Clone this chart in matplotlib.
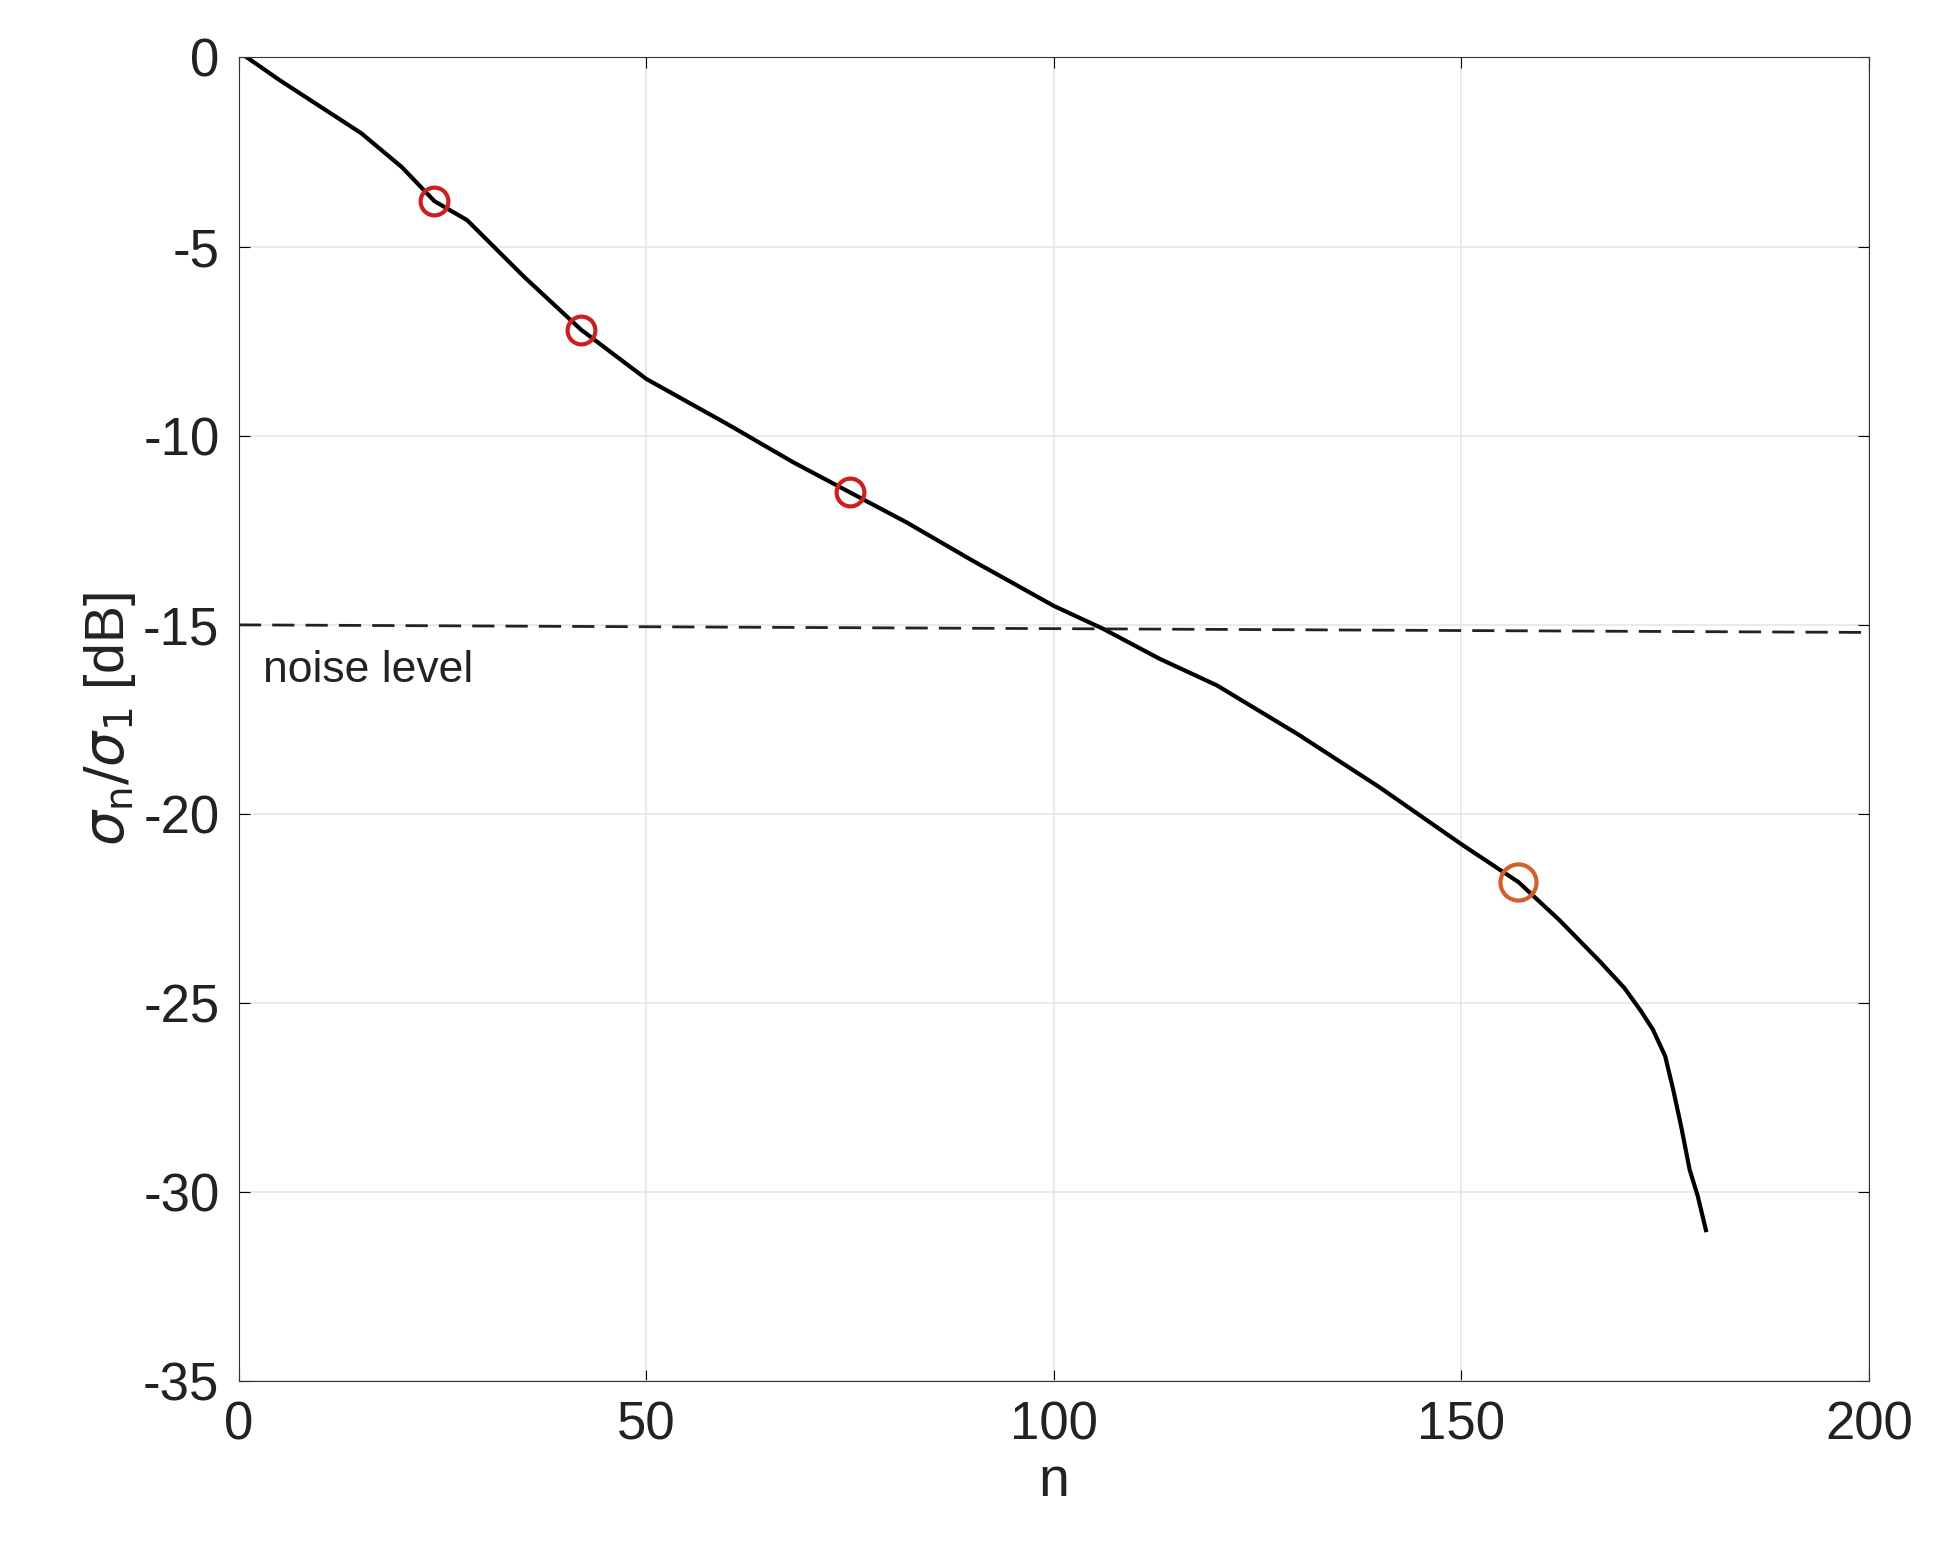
import numpy as np
import matplotlib.pyplot as plt

plt.rcParams['font.family'] = ['Liberation Sans', 'DejaVu Sans']
plt.rcParams['axes.unicode_minus'] = False
plt.rcParams['mathtext.fontset'] = 'dejavusans'

# curve
n_vals = [1, 5, 10, 15, 20, 24, 28, 35, 42, 50, 60, 68, 75, 82, 90, 100, 106, 113, 120, 130,
          140, 150, 157, 162, 167, 170, 172, 173.5, 175, 176, 177, 178, 179, 180]
db_vals = [0, -0.6, -1.3, -2.0, -2.9, -3.8, -4.3, -5.8, -7.2, -8.5, -9.7, -10.7, -11.5, -12.3, -13.3,
           -14.5, -15.1, -15.9, -16.6, -17.9, -19.3, -20.8, -21.8, -22.8, -23.9, -24.6, -25.2,
           -25.7, -26.4, -27.3, -28.3, -29.4, -30.1, -31.0]
mark_n = [24, 42, 75]
mark_db = [-3.8, -7.2, -11.5]
big_n = [157]
big_db = [-21.8]
noise_n = [0, 200]
noise_db = [-15.0, -15.2]

fig = plt.figure(figsize=(19.58, 15.53), dpi=100)
ax = fig.add_axes([0.1220, 0.1105, 0.8325, 0.8525])

ax.plot(n_vals, db_vals, color="black", lw=3)
ax.plot(noise_n, noise_db, color="#222222", lw=2, ls=(0, (8, 4)))
ax.plot(mark_n, mark_db, "o", mfc="none", mec="#cc1f1f", ms=20, mew=3)
ax.plot(big_n, big_db, "o", mfc="none", mec="#d2602a", ms=26, mew=3)
ax.text(3, -16.2, "noise level", fontsize=32, va="center", color="#222222")

ax.set_xlim(0, 200)
ax.set_ylim(-35, 0)
ax.set_xticks([0, 50, 100, 150, 200])
ax.set_yticks([-35, -30, -25, -20, -15, -10, -5, 0])
ax.grid(color="#e6e6e6", lw=1.2)
ax.tick_params(labelsize=38, direction="in", length=8, top=True, right=True, pad=14,
               labelcolor="#222222")
for s in ax.spines.values():
    s.set_color("#333333")
ax.set_xlabel("n", fontsize=40, color="#222222")
ax.set_ylabel(r"$\sigma_{\rm n}/\sigma_{\rm 1}$ [dB]", fontsize=40, color="#222222")

fig.savefig("out.png", dpi=100, facecolor="white")
